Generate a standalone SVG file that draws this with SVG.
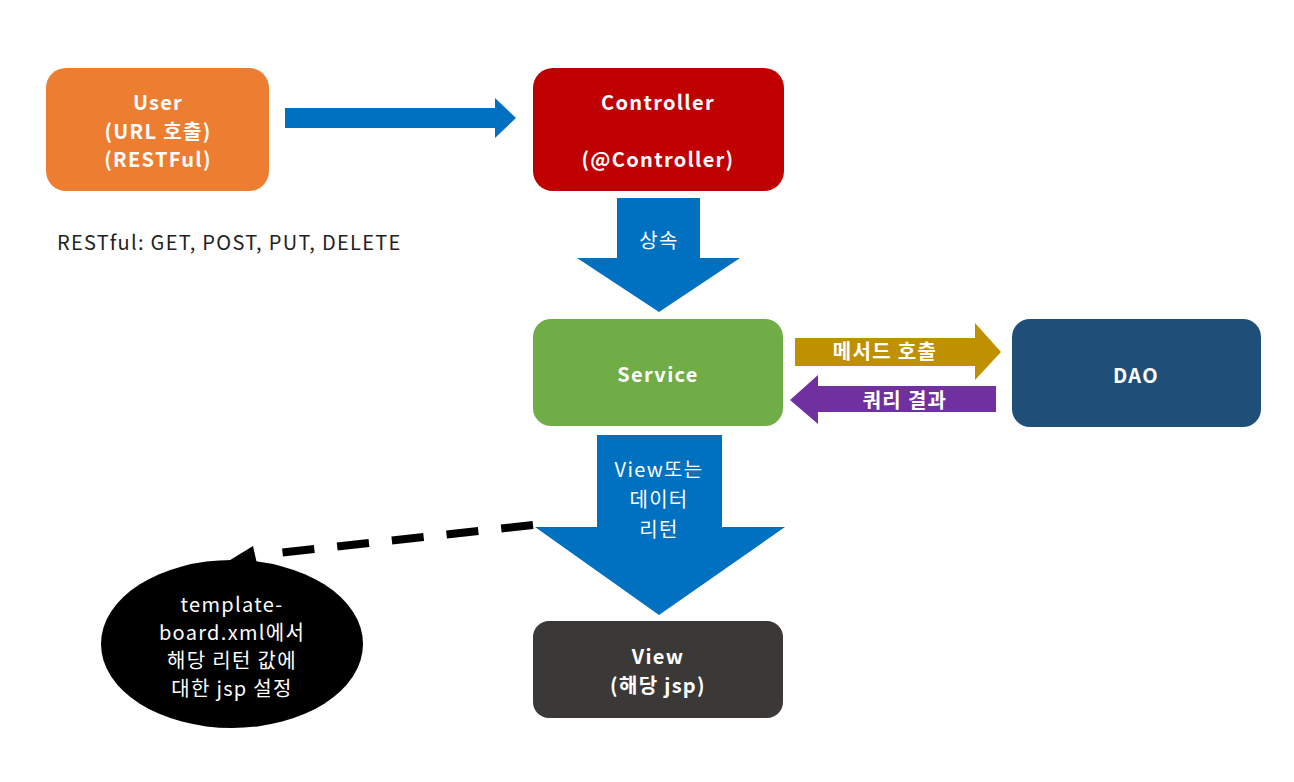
<svg xmlns="http://www.w3.org/2000/svg" width="1294" height="782" viewBox="0 0 1294 782">
<style>
text{font-family:"Noto Sans CJK KR","Noto Sans",sans-serif;font-size:20px;letter-spacing:1.3px;fill:#fff;text-anchor:middle}
.b{font-weight:bold}
.dark{fill:#222;text-anchor:start}
</style>
<rect width="1294" height="782" fill="#fff"/>
<g id="connectors">
<polygon points="285,108 495,108 495,98 516,118 495,138 495,128 285,128" fill="#0070C0"/>
<polygon points="617,198 700,198 700,258 740,258 659,312 577,258 617,258" fill="#0070C0"/>
<polygon points="597,435 722,435 722,527 785,527 659,615 535,527 597,527" fill="#0070C0"/>
<polygon points="795,338 975,338 975,323 1001,352 975,380 975,366 795,366" fill="#BF9000"/>
<polygon points="996,386 818,386 818,375 790,400 818,424 818,412 996,412" fill="#7030A0"/>
<line x1="533" y1="525" x2="278" y2="553" stroke="#000" stroke-width="8" stroke-dasharray="32,23"/>
<text x="659" y="248">상속</text>
<text x="885" y="359" class="b">메서드 호출</text>
<text x="905" y="408" class="b">쿼리 결과</text>
<text x="659" y="477">View또는</text>
<text x="659" y="507">데이터</text>
<text x="659" y="537">리턴</text>
</g>
<g id="user">
<rect x="46" y="68" width="223" height="123" rx="20" fill="#ED7D31"/>
<text x="158" y="110" class="b">User</text>
<text x="158" y="139" class="b">(URL 호출)</text>
<text x="158" y="167" class="b">(RESTFul)</text>
</g>
<g id="restful-note">
<text x="57" y="250" class="dark">RESTful: GET, POST, PUT, DELETE</text>
</g>
<g id="controller">
<rect x="533" y="68" width="251" height="123" rx="20" fill="#C00000"/>
<text x="658" y="110" class="b">Controller</text>
<text x="658" y="167" class="b">(@Controller)</text>
</g>
<g id="service">
<rect x="533" y="319" width="250" height="107" rx="18" fill="#70AD47"/>
<text x="658" y="382" class="b">Service</text>
</g>
<g id="dao">
<rect x="1012" y="319" width="249" height="108" rx="18" fill="#1F4E79"/>
<text x="1136" y="383" class="b">DAO</text>
</g>
<g id="view">
<rect x="533" y="621" width="250" height="97" rx="16" fill="#3B3838"/>
<text x="658" y="664" class="b">View</text>
<text x="658" y="693" class="b">(해당 jsp)</text>
</g>
<g id="callout">
<ellipse cx="232" cy="644" rx="131" ry="84" fill="#000"/>
<polygon points="222,565 253,546 258,568" fill="#000"/>
<text x="232" y="612">template-</text>
<text x="232" y="640">board.xml에서</text>
<text x="232" y="668">해당 리턴 값에</text>
<text x="232" y="696">대한 jsp 설정</text>
</g>
</svg>
